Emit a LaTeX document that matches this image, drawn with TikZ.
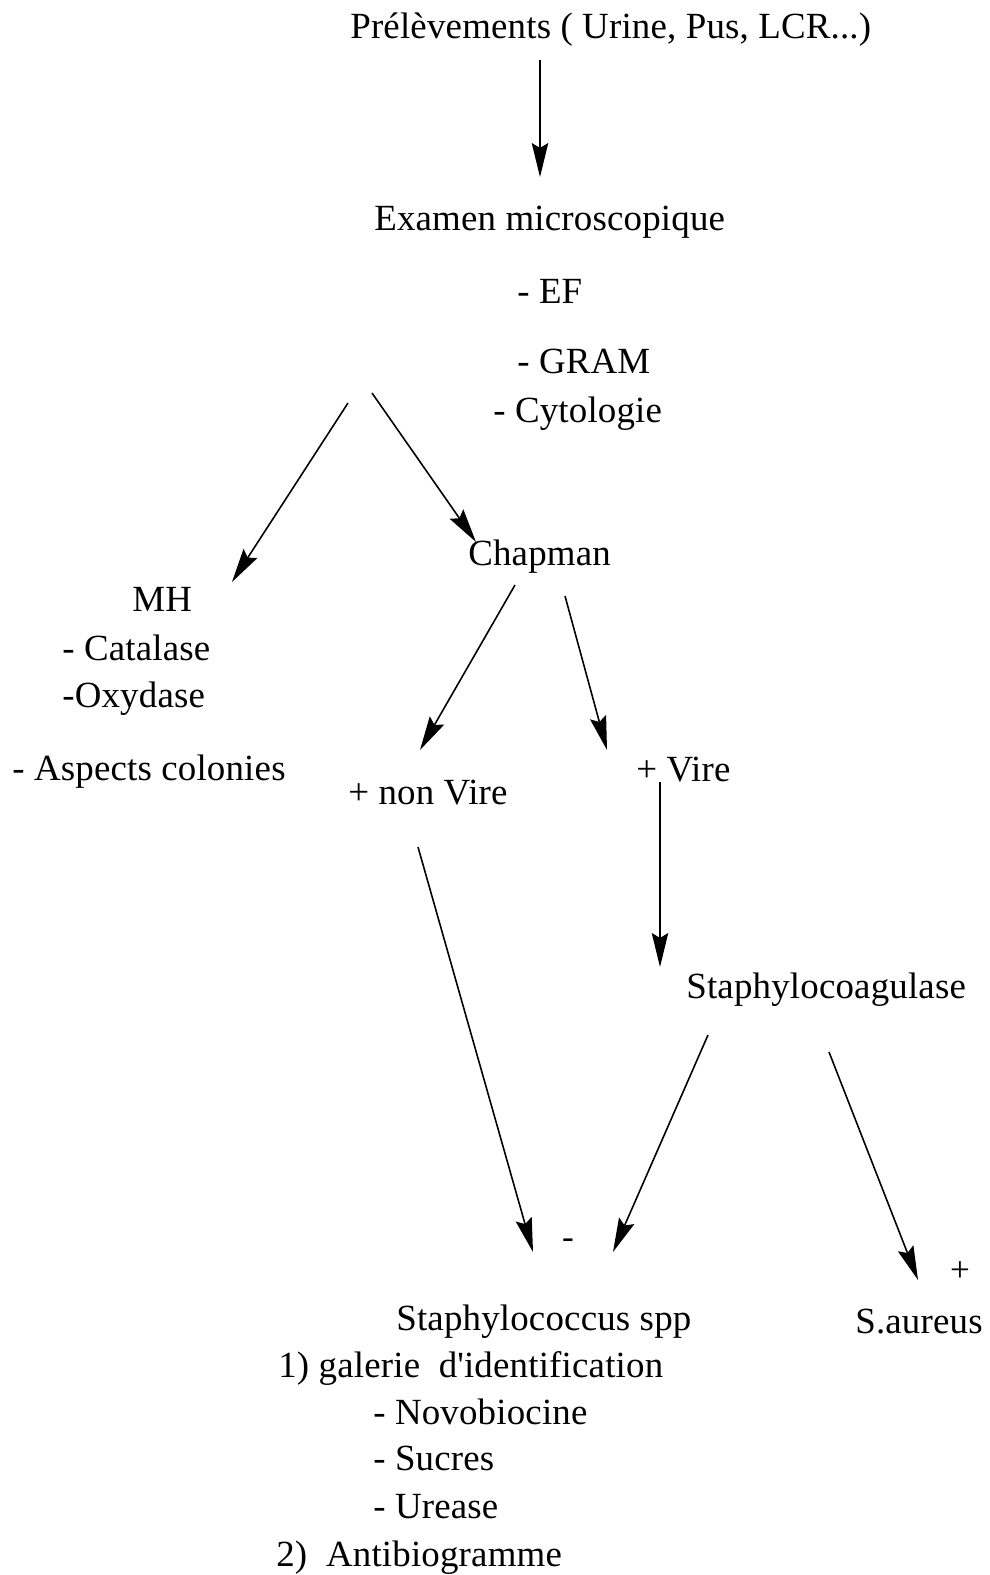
\documentclass[tikz,border=0pt]{standalone}
\usepackage{fontspec}
\setmainfont[LetterSpace=0.5]{Liberation Serif}
\usetikzlibrary{arrows.meta}

\tikzset{
  txt/.style={anchor=base west, inner sep=0pt, font=\fontsize{21}{25}\selectfont},
  sgn/.style={inner sep=0pt, font=\fontsize{20}{22}\selectfont},
  flow/.style={line width=0.9pt, -{Stealth[length=6.8mm,width=3.3mm,inset=1mm]}}
}

\begin{document}
\begin{tikzpicture}[x=0.02cm, y=-0.02cm]

            %\draw [help lines] (0,0) grid (990,1575);
            \useasboundingbox (0,0) rectangle (990,1575);

            \path   (350,39) node (prel) [txt] {Prélèvements ( Urine, Pus, LCR...)}
                    (374,230) node (exam) [txt] {Examen microscopique}
                    (517,303) node (ef) [txt] {- EF}
                    (517,373) node (gram) [txt] {- GRAM}
                    (493,422) node (cyto) [txt] {- Cytologie}
                    (468,565) node (chap) [txt] {Chapman}
                    (132,611) node (mh) [txt] {MH}
                    (62,660) node (cata) [txt] {- Catalase}
                    (62,707) node (oxy) [txt] {-Oxydase}
                    (12,780) node (asp) [txt] {- Aspects colonies}
                    (348,804) node (nonv) [txt] {+ non Vire}
                    (636,781) node (vire) [txt] {+ Vire}
                    (686,998) node (coag) [txt] {Staphylocoagulase}
                    (568,1244) node (moins) [sgn] {-}
                    (960,1272) node (plus) [sgn] {+}
                    (396,1330) node (spp) [txt] {Staphylococcus spp}
                    (855,1333) node (aur) [txt] {S.aureus}
                    (278,1377) node (gal) [txt] {1) galerie\ \ d\textquotesingle identification}
                    (373,1424) node (novo) [txt] {- Novobiocine}
                    (373,1470) node (suc) [txt] {- Sucres}
                    (373,1518) node (ure) [txt] {- Urease}
                    (276,1566) node (anti) [txt] {2)\ \ Antibiogramme};

            % ends of the arrows
            \path   (540,60) coordinate (prel-out)
                    (540,177) coordinate (exam-in)
                    (348,403) coordinate (exam-l)
                    (372,393) coordinate (exam-r)
                    (232,582) coordinate (mh-in)
                    (476,542) coordinate (chap-in)
                    (515,585) coordinate (chap-l)
                    (565,596) coordinate (chap-r)
                    (420,750) coordinate (nonv-in)
                    (607,750) coordinate (vire-in)
                    (660,782) coordinate (vire-out)
                    (660,967) coordinate (coag-in)
                    (418,847) coordinate (nonv-out)
                    (708,1035) coordinate (coag-l)
                    (829,1052) coordinate (coag-r)
                    (533,1252) coordinate (spp-l)
                    (613,1252) coordinate (spp-r)
                    (918,1280) coordinate (aur-in);

            \draw[flow] (prel-out) -- (exam-in);
            \draw[flow] (exam-l) -- (mh-in);
            \draw[flow] (exam-r) -- (chap-in);
            \draw[flow] (chap-l) -- (nonv-in);
            \draw[flow] (chap-r) -- (vire-in);
            \draw[flow] (vire-out) -- (coag-in);
            \draw[flow] (nonv-out) -- (spp-l);
            \draw[flow] (coag-l) -- (spp-r);
            \draw[flow] (coag-r) -- (aur-in);

\end{tikzpicture}
\end{document}
